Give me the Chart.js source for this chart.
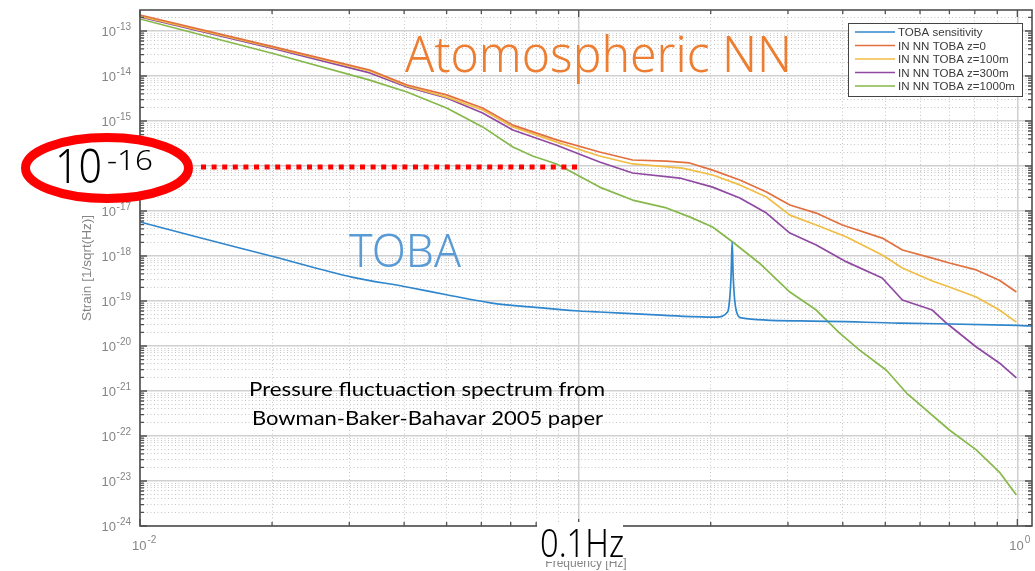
<!DOCTYPE html>
<html>
<head>
<meta charset="utf-8">
<script src="https://cdn.jsdelivr.net/npm/chart.js@4.4.1/dist/chart.umd.min.js"></script>
<style>
  html, body { margin: 0; padding: 0; background: #fff; }
  #wrap { width: 1035px; height: 571px; }
</style>
</head>
<body>
<div id="wrap"><canvas id="strainChart" width="1035" height="571"></canvas></div>
<script>
// values (frequency in Hz, strain in 1/sqrt(Hz))
const tobaFreq = [0.01, 0.0135, 0.0203, 0.0304, 0.0406, 0.0503, 0.0634, 0.0773, 0.1003, 0.1116, 0.15, 0.206,
  0.2185, 0.2208, 0.2226, 0.2238, 0.225, 0.2268, 0.2291, 0.2352, 0.319, 0.538, 1.0, 1.08];
const tobaStrain = [5.7e-18, 2.64e-18, 9.5e-19, 3.4e-19, 2.05e-19, 1.36e-19, 9.0e-20, 7.4e-20, 6.0e-20, 5.7e-20, 4.9e-20, 4.4e-20,
  5.7e-20, 1.05e-19, 3.8e-19, 2.05e-18, 3.8e-19, 1.05e-19, 5.7e-20, 4.2e-20, 3.6e-20, 3.24e-20, 2.86e-20, 2.78e-20];

const z0Freq = [0.01, 0.0203, 0.0334, 0.0406, 0.05, 0.0604, 0.0708, 0.0891, 0.1116, 0.1327, 0.1585, 0.179, 0.202,
  0.233, 0.268, 0.303, 0.348, 0.399, 0.492, 0.547, 0.64, 0.70, 0.806, 0.91, 0.995];
const z0Strain = [2.27e-13, 4.4e-14, 1.36e-14, 6.3e-15, 3.8e-15, 1.95e-15, 8.1e-16, 3.8e-16, 2.05e-16, 1.36e-16, 1.29e-16, 1.17e-16, 8.1e-17,
  4.9e-17, 2.64e-17, 1.36e-17, 9.0e-18, 4.9e-18, 2.5e-18, 1.36e-18, 9.0e-19, 7.0e-19, 4.9e-19, 2.9e-19, 1.58e-19];

const z100Freq = [0.01, 0.0203, 0.0334, 0.0406, 0.05, 0.0604, 0.0708, 0.0891, 0.1116, 0.1327, 0.1725, 0.202,
  0.233, 0.268, 0.303, 0.348, 0.408, 0.492, 0.547, 0.64, 0.70, 0.806, 0.91, 0.995];
const z100Strain = [2.15e-13, 4.2e-14, 1.29e-14, 6.0e-15, 3.4e-15, 1.75e-15, 7.4e-16, 3.4e-16, 1.67e-16, 1.11e-16, 9.0e-17, 6.3e-17,
  3.8e-17, 2.05e-17, 8.1e-18, 4.9e-18, 2.64e-18, 1.05e-18, 5.4e-19, 2.78e-19, 2.05e-19, 1.23e-19, 6.3e-20, 3.4e-20];

const z300Freq = [0.01, 0.0203, 0.0334, 0.0406, 0.05, 0.0604, 0.0708, 0.0891, 0.1116, 0.1327, 0.170, 0.202,
  0.233, 0.268, 0.303, 0.348, 0.408, 0.492, 0.547, 0.64, 0.689, 0.806, 0.91, 0.995];
const z300Strain = [2.05e-13, 4.0e-14, 1.17e-14, 5.7e-15, 3.24e-15, 1.5e-15, 6.3e-16, 2.9e-16, 1.23e-16, 7.0e-17, 5.4e-17, 3.4e-17,
  1.95e-17, 9.0e-18, 3.24e-18, 1.75e-18, 7.4e-19, 3.24e-19, 1.05e-19, 6.3e-20, 3.24e-20, 9.5e-21, 4.2e-21, 1.95e-21];

const z1000Freq = [0.01, 0.0203, 0.0334, 0.0406, 0.05, 0.0604, 0.0708, 0.0785, 0.0891, 0.1116, 0.1327, 0.1585, 0.179, 0.202,
  0.2244, 0.258, 0.303, 0.348, 0.393, 0.437, 0.503, 0.559, 0.70, 0.806, 0.91, 0.995];
const z1000Strain = [1.85e-13, 3.08e-14, 8.1e-15, 4.4e-15, 1.95e-15, 7.4e-16, 2.64e-16, 1.67e-16, 1.11e-16, 3.4e-17, 1.75e-17, 1.17e-17, 7.4e-18, 4.4e-18,
  2.05e-18, 7.0e-19, 1.58e-19, 6.3e-20, 1.95e-20, 8.1e-21, 2.9e-21, 9.0e-22, 1.36e-22, 4.9e-23, 1.58e-23, 4.9e-24];

const seriesLabels = ['TOBA sensitivity', 'IN NN TOBA z=0', 'IN NN TOBA z=100m', 'IN NN TOBA z=300m', 'IN NN TOBA z=1000m'];

// decade exponents used for ticks / tick labels
const xTickExp = ['-2', '-1', '0'];
const yTickExp = ['-24', '-23', '-22', '-21', '-20', '-19', '-18', '-17', '-16', '-15', '-14', '-13'];

const pts = (xs, ys) => xs.map((x, i) => ({ x: x, y: ys[i] }));

function decadeTicks(exps, min, max) {
  const ticks = [];
  exps.forEach(e => {
    for (let k = 1; k <= 9; k++) {
      const v = k * Math.pow(10, +e);
      if (v >= min * 0.999 && v <= max * 1.001) ticks.push({ value: v, major: k === 1 });
    }
  });
  return ticks;
}

function fitText(ctx, text, x, y, font, width, color, align) {
  ctx.save();
  ctx.font = font;
  ctx.fillStyle = color;
  ctx.textAlign = 'left';
  ctx.textBaseline = 'alphabetic';
  const w = ctx.measureText(text).width;
  const left = align === 'center' ? x - width / 2 : x;
  ctx.translate(left, y);
  ctx.scale(width / w, 1);
  ctx.fillText(text, 0, 0);
  ctx.restore();
}

const isMajor = c => c.tick && c.tick.major;
const gridOpts = {
  color: c => isMajor(c) ? '#d0d0d0' : '#c6c6c6',
  lineWidth: c => isMajor(c) ? 1.5 : 1,
  drawTicks: false
};
const borderOpts = { display: false, dash: c => isMajor(c) ? [] : [1, 2.5] };

// box + inward tick marks like matlab
const axesBox = {
  id: 'axesBox',
  afterDatasetsDraw(chart) {
    const { ctx, chartArea: a, scales: { x, y } } = chart;
    ctx.save();
    ctx.strokeStyle = '#505050';
    ctx.lineWidth = 1.3;
    ctx.beginPath();
    x.ticks.forEach(t => {
      const px = x.getPixelForValue(t.value);
      const len = t.major ? 7 : 4;
      ctx.moveTo(px, a.bottom); ctx.lineTo(px, a.bottom - len);
      ctx.moveTo(px, a.top); ctx.lineTo(px, a.top + len);
    });
    y.ticks.forEach(t => {
      const py = y.getPixelForValue(t.value);
      const len = t.major ? 7 : 4;
      ctx.moveTo(a.left, py); ctx.lineTo(a.left + len, py);
      ctx.moveTo(a.right, py); ctx.lineTo(a.right - len, py);
    });
    ctx.stroke();
    ctx.lineWidth = 1.6;
    ctx.strokeRect(a.left, a.top, a.right - a.left, a.bottom - a.top);
    ctx.restore();
  }
};

// 10^n tick labels drawn at the scale's own pixel positions
const tickLabels = {
  id: 'tickLabels',
  afterDraw(chart) {
    const { ctx, chartArea: a, scales: { x, y } } = chart;
    ctx.save();
    ctx.fillStyle = '#858585';
    ctx.textBaseline = 'alphabetic';
    yTickExp.forEach(e => {
      const py = y.getPixelForValue(Math.pow(10, +e));
      ctx.font = '10px "Liberation Sans"';
      const ew = ctx.measureText(e).width;
      ctx.textAlign = 'left';
      ctx.fillText(e, 131 - ew, py - 1);
      ctx.font = '13px "Liberation Sans"';
      ctx.textAlign = 'right';
      ctx.fillText('10', 131 - ew - 0.5, py + 5);
    });
    xTickExp.forEach(e => {
      const px = x.getPixelForValue(Math.pow(10, +e));
      ctx.font = '13px "Liberation Sans"';
      ctx.textAlign = 'left';
      const bw = ctx.measureText('10').width;
      ctx.fillText('10', px - 8, a.bottom + 24);
      ctx.font = '10px "Liberation Sans"';
      ctx.fillText(e, px - 8 + bw + 1, a.bottom + 17);
    });
    ctx.restore();
  }
};

const legendBox = {
  id: 'legendBox',
  afterDraw(chart) {
    const { ctx, chartArea: a } = chart;
    const bx = a.right - 184, by = a.top + 13, bw = 174, bh = 73;
    ctx.save();
    ctx.fillStyle = '#fff';
    ctx.fillRect(bx, by, bw, bh);
    ctx.strokeStyle = '#444';
    ctx.lineWidth = 1;
    ctx.strokeRect(bx + 0.5, by + 0.5, bw, bh);
    ctx.font = '11px "Liberation Sans"';
    chart.data.datasets.forEach((ds, i) => {
      const ry = by + 9 + i * 13.5;
      ctx.strokeStyle = ds.borderColor;
      ctx.lineWidth = 1.6;
      ctx.beginPath();
      ctx.moveTo(bx + 7, ry); ctx.lineTo(bx + 47, ry);
      ctx.stroke();
      fitText(ctx, ds.label, bx + 50, ry + 4, '11px "Liberation Sans"', ctx.measureText(ds.label).width * 1.05, '#3a3a3a');
    });
    ctx.restore();
  }
};

// slide annotations on top of the plot
const overlays = {
  id: 'overlays',
  afterDraw(chart) {
    const { ctx } = chart;
    fitText(ctx, 'Atomospheric NN', 405, 72, '300 50px "Noto Sans"', 387, '#ED7D31');
    fitText(ctx, 'TOBA', 349, 267, '300 45px "Noto Sans"', 112, '#5B9BD5');
    fitText(ctx, 'Pressure fluctuaction spectrum from', 249, 396, '20px Lato', 356, '#000');
    fitText(ctx, 'Bowman-Baker-Bahavar 2005 paper', 252, 425, '20px Lato', 351, '#000');

    // red dotted guide at 1e-16
    ctx.save();
    ctx.strokeStyle = '#ff0000';
    ctx.lineWidth = 5;
    ctx.setLineDash([5, 5.6]);
    ctx.beginPath();
    ctx.moveTo(201, 167); ctx.lineTo(580, 167);
    ctx.stroke();
    ctx.setLineDash([]);
    // red ellipse
    ctx.beginPath();
    ctx.ellipse(107, 168, 81.5, 30.5, 0, 0, Math.PI * 2);
    ctx.fillStyle = '#fff';
    ctx.fill();
    ctx.lineWidth = 9;
    ctx.stroke();
    // 0.1Hz label box
    ctx.fillStyle = '#fff';
    ctx.fillRect(537, 522, 86, 39);
    ctx.restore();
    fitText(ctx, '10', 55, 183, '300 48px "Noto Sans"', 47, '#000');
    fitText(ctx, '-16', 107, 170, '300 28px "Noto Sans"', 46, '#000');
    fitText(ctx, '0.1Hz', 540, 557, '300 38px "Noto Sans"', 84, '#000');
  }
};

new Chart(document.getElementById('strainChart').getContext('2d'), {
  type: 'line',
  data: {
    datasets: [
      { label: seriesLabels[0], data: pts(tobaFreq, tobaStrain), borderColor: '#2f86cc', cubicInterpolationMode: 'monotone' },
      { label: seriesLabels[1], data: pts(z0Freq, z0Strain), borderColor: '#e2703f' },
      { label: seriesLabels[2], data: pts(z100Freq, z100Strain), borderColor: '#f0bd45' },
      { label: seriesLabels[3], data: pts(z300Freq, z300Strain), borderColor: '#9049a3' },
      { label: seriesLabels[4], data: pts(z1000Freq, z1000Strain), borderColor: '#86b84a' }
    ]
  },
  options: {
    responsive: false,
    animation: false,
    layout: { padding: { top: 10, right: 3, left: 0, bottom: 0 } },
    elements: {
      point: { radius: 0 },
      line: { borderWidth: 1.7, tension: 0, fill: false, borderJoinStyle: 'round' }
    },
    scales: {
      x: {
        type: 'logarithmic',
        min: 0.01,
        max: 1.08,
        ticks: { display: false },
        grid: gridOpts,
        border: borderOpts,
        afterBuildTicks: s => { s.ticks = decadeTicks(xTickExp, s.min, s.max); },
        afterFit: s => { s.height = 45; },
        title: {
          display: true,
          text: 'Frequency [Hz]',
          color: '#858585',
          font: { family: 'Liberation Sans', size: 12 },
          padding: { top: 0, bottom: 0 }
        }
      },
      y: {
        type: 'logarithmic',
        min: 1e-24,
        max: 2.93e-13,
        ticks: { display: false },
        grid: gridOpts,
        border: borderOpts,
        afterBuildTicks: s => { s.ticks = decadeTicks(yTickExp, s.min, s.max); },
        afterFit: s => { s.width = 140; },
        title: {
          display: true,
          text: 'Strain [1/sqrt(Hz)]',
          color: '#858585',
          font: { family: 'Liberation Sans', size: 13.5 },
          padding: { top: 79, bottom: 0 }
        }
      }
    },
    plugins: {
      legend: { display: false },
      tooltip: { enabled: false }
    }
  },
  plugins: [axesBox, tickLabels, legendBox, overlays]
});
</script>
</body>
</html>
